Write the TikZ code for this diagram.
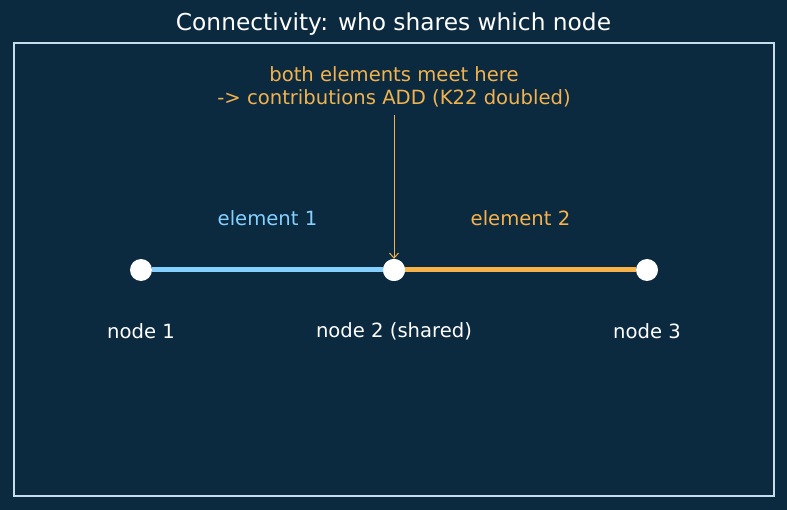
\documentclass[tikz,border=0pt]{standalone}
\usepackage{fontspec}
\setmainfont{DejaVu Sans}
\usetikzlibrary{arrows.meta}
\definecolor{bgc}{HTML}{0B2A40}
\definecolor{framec}{HTML}{C5DCEA}
\definecolor{eone}{HTML}{85D0FF}
\definecolor{etwo}{HTML}{F7B24A}
\definecolor{annc}{HTML}{F2B24E}
\begin{document}
\begin{tikzpicture}[x=1pt,y=-1pt,
  dot/.style={circle,fill=white,inner sep=0pt,minimum size=22pt},
  lbl/.style={text=white,font=\fontsize{19.6}{23}\selectfont},
  elbl/.style={font=\fontsize{19.6}{23}\selectfont},
  bar/.style={line width=5pt}]
\fill[bgc] (0,0) rectangle (787,510);
\useasboundingbox (0,0) rectangle (787,510);
\draw[framec,line width=1.2pt] (14,43) rectangle (774,496);
\node[text=white,font=\fontsize{23.3}{27}\selectfont] (title) at (393.5,24) {Connectivity: who shares which node};
\node[dot] (n1) at (141,270) {};
\node[dot] (n2) at (394,270) {};
\node[dot] (n3) at (647,270) {};
\draw[bar,eone] (n1) -- (n2);
\draw[bar,etwo] (n2) -- (n3);
\node[dot] at (n2) {};
\node[elbl,text=eone] (e1) at (267.5,218) {element 1};
\node[elbl,text=etwo] (e2) at (520.5,218) {element 2};
\node[lbl] (l1) at (141,331) {node 1};
\node[lbl] (l2) at (394,331) {node 2 (shared)};
\node[lbl] (l3) at (647,331) {node 3};
\node[text=annc,font=\fontsize{19.6}{23}\selectfont,align=center] (ann) at (394,87) {both elements meet here\\-> contributions ADD (K22 doubled)};
\coordinate (as) at (394,115);
\draw[annc,line width=1pt,-{Straight Barb[length=5pt,width=9pt]}] (as) -- (n2.north);
\end{tikzpicture}
\end{document}
